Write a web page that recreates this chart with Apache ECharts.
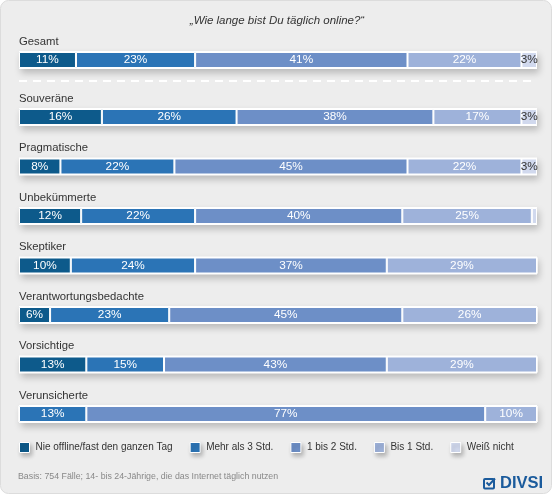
<!DOCTYPE html>
<html>
<head>
<meta charset="utf-8">
<script src="https://cdn.jsdelivr.net/npm/echarts@6/dist/echarts.min.js"></script>
<style>
html,body{margin:0;padding:0;background:#fff;}
#c{width:554px;height:496px;}
</style>
</head>
<body>
<div id="c"></div>
<script>
var categories = ['Gesamt','Souveräne','Pragmatische','Unbekümmerte','Skeptiker','Verantwortungsbedachte','Vorsichtige','Verunsicherte'];
var seriesNames = ['Nie offline/fast den ganzen Tag','Mehr als 3 Std.','1 bis 2 Std.','Bis 1 Std.','Weiß nicht'];
var nieOffline = [11,16,8,12,10,6,13,0];
var mehrAls3 = [23,26,22,22,24,23,15,13];
var einsBis2 = [41,38,45,40,37,45,43,77];
var bis1 = [22,17,22,25,29,26,29,10];
var weissNicht = [3,3,3,1,0,0,0,0];
var titleText = '„Wie lange bist Du täglich online?“';
var footnote = 'Basis: 754 Fälle; 14- bis 24-Jährige, die das Internet täglich nutzen';

var values = [nieOffline, mehrAls3, einsBis2, bis1, weissNicht];
var colors = ['#0d5a8b','#2b74b6','#6d8fc7','#9eb2da','#d1d9ee'];
var labelColors = ['#fff','#fff','#fff','#fff','#333'];
var tops = [51,108,157.5,207,256.5,306,355.5,405];
var FF = 'Liberation Sans, Arial, sans-serif';

var grids = [], xAxes = [], yAxes = [], series = [];
categories.forEach(function(cat, i){
  grids.push({left:19, right:17, top:tops[i], height:18, show:true, backgroundColor:'#fff', borderWidth:0,
    shadowBlur:7, shadowColor:'rgba(0,0,0,0.22)', shadowOffsetX:2, shadowOffsetY:4});
  xAxes.push({gridIndex:i, type:'value', min:0, max:100, show:false});
  yAxes.push({gridIndex:i, type:'category', data:[cat], name:cat, nameLocation:'end', nameGap:4,
    nameTextStyle:{align:'left', verticalAlign:'bottom', fontSize:11.3, color:'#333', fontFamily:FF},
    axisLine:{show:false}, axisTick:{show:false}, axisLabel:{show:false}, splitLine:{show:false}});
  values.forEach(function(arr, s){
    series.push({
      type:'bar', name:seriesNames[s], xAxisIndex:i, yAxisIndex:i, stack:'row'+i,
      barWidth:16, data:[arr[i]], silent:true,
      itemStyle:{color:colors[s], borderColor:'#fff', borderWidth:1},
      label:{show:true, position:'inside', color:labelColors[s], fontSize:11.8, fontFamily:FF,
        formatter:function(p){ return p.value >= 2 ? p.value + '%' : ''; }}
    });
  });
});

var chart = echarts.init(document.getElementById('c'), null, {renderer:'canvas'});
chart.setOption({
  animation:false,
  color:colors,
  title:{text:titleText, left:'center', top:10, textStyle:{fontSize:11.5, fontStyle:'italic', fontWeight:'normal', color:'#333', fontFamily:FF}},
  grid:grids, xAxis:xAxes, yAxis:yAxes, series:series,
  legend:{data:seriesNames, left:19, top:442, width:540, padding:0, icon:'rect', itemWidth:10, itemHeight:10, itemGap:17,
    itemStyle:{borderColor:'#fff', borderWidth:1, shadowBlur:4, shadowColor:'rgba(0,0,0,0.25)', shadowOffsetX:2, shadowOffsetY:3},
    textStyle:{fontSize:10, color:'#333', fontFamily:FF, padding:[0,0,0,1]}, selectedMode:false},
  graphic:[
    {type:'rect', z:-10, shape:{x:0.5, y:0.5, width:551, height:493, r:8},
      style:{fill:'#ededed', stroke:'#dcdcdc', lineWidth:1}},
    {type:'line', shape:{x1:19, y1:81, x2:537, y2:81}, style:{stroke:'#fff', lineWidth:2, lineDash:[8,6]}},
    {type:'text', left:18, top:472, style:{text:footnote, fontSize:8.8, fill:'#888', fontFamily:FF}},
    {type:'text', left:500, top:475, style:{text:'DIVSI', fontSize:16.5, fontWeight:'bold', fill:'#1b5b9c', fontFamily:FF}},
    {type:'rect', shape:{x:484, y:479, width:10, height:9.5, r:1}, style:{fill:'none', stroke:'#1b5b9c', lineWidth:2}},
    {type:'polyline', shape:{points:[[486.5,482.5],[489,485],[495,478.5]]}, style:{fill:'none', stroke:'#1b5b9c', lineWidth:2}}
  ]
});
</script>
</body>
</html>
